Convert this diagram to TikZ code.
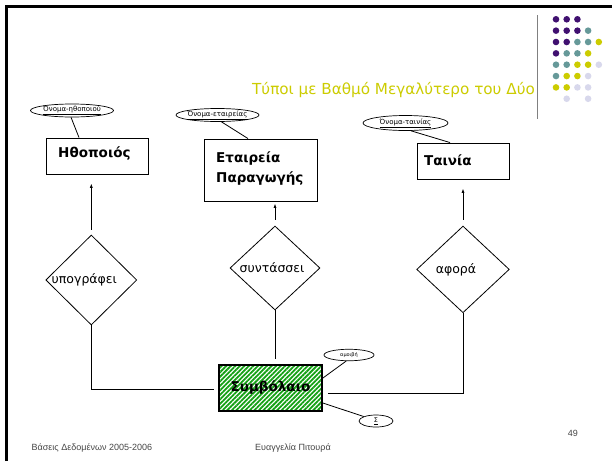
\documentclass[tikz,border=0pt]{standalone}
\usepackage{fontspec}
\setmainfont{DejaVu Sans}
\newfontfamily\footfont{Liberation Sans}
\usetikzlibrary{shapes.geometric,arrows.meta,patterns.meta}
\definecolor{titlec}{RGB}{204,204,0}
\definecolor{dpurple}{RGB}{64,16,112}
\definecolor{dteal}{RGB}{102,153,153}
\definecolor{dyellow}{RGB}{204,204,0}
\definecolor{dlav}{RGB}{216,216,236}
\definecolor{stripegreen}{RGB}{20,160,20}
\definecolor{footgray}{RGB}{70,70,70}
\begin{document}
\begin{tikzpicture}[x=1pt,y=-1pt,
  entity/.style={draw, line width=0.9pt, rectangle, inner sep=0pt,
    font=\bfseries\fontsize{13.5}{20}\selectfont},
  etext/.style={anchor=west, inner sep=0pt, align=left,
    font=\bfseries\fontsize{13.5}{20}\selectfont},
  rel/.style={draw, diamond, aspect=1, inner sep=0pt, line width=0.8pt,
    font=\fontsize{12.5}{14}\selectfont},
  attr/.style={draw, ellipse, inner sep=0pt, line width=0.7pt,
    font=\fontsize{7}{8}\selectfont},
  conn/.style={line width=0.8pt},
  arr/.style={line width=0.6pt, -{Latex[length=4pt,width=3pt]}},
  foot/.style={anchor=base west, text=footgray, font=\footfont\fontsize{9}{10}\selectfont}
]
\useasboundingbox (0,0) rectangle (612,461);
\fill[white] (0,0) rectangle (612,461);
% frame
\draw[line width=3.3pt] (6.7,461) -- (6.7,6.7) -- (612,6.7);
% decoration
\draw[gray, line width=1.2pt] (537.5,15) -- (537.5,119);
\foreach \c/\i/\j in {
  dpurple/1/1, dpurple/2/1, dpurple/3/1,
  dpurple/1/2, dpurple/2/2, dpurple/3/2, dteal/4/2,
  dpurple/1/3, dpurple/2/3, dteal/3/3, dteal/4/3, dyellow/5/3,
  dpurple/1/4, dteal/2/4, dteal/3/4, dyellow/4/4,
  dteal/1/5, dteal/2/5, dyellow/3/5, dyellow/4/5, dlav/5/5,
  dteal/1/6, dyellow/2/6, dyellow/3/6, dlav/4/6,
  dyellow/1/7, dyellow/2/7, dlav/3/7, dlav/4/7,
  dlav/2/8, dlav/4/8}
  \fill[\c] ({556+10.7*(\i-1)},{19.3+11.35*(\j-1)}) circle (3.3pt);
% title
\node[anchor=base east, text=titlec, inner sep=0pt, font=\fontsize{15.2}{18}\selectfont]
  (title) at (535,94.5) {Τύποι με Βαθμό Μεγαλύτερο του Δύο};
% entities
\node[entity, minimum width=102pt, minimum height=36pt] (e1) at (97,156) {};
\node[etext] (t1) at (58,153.5) {Ηθοποιός};
\node[entity, minimum width=113pt, minimum height=62pt] (e2) at (260.5,170) {};
\node[etext] (t2) at (216,169) {Εταιρεία\\Παραγωγής};
\node[entity, minimum width=92pt, minimum height=36pt] (e3) at (463,161) {};
\node[etext] (t3) at (424,160.5) {Ταινία};
\node[draw, line width=1.1pt, minimum width=103pt, minimum height=46pt, inner sep=0pt,
  preaction={fill=white},
  pattern={Lines[angle=45,distance=3.2pt,line width=1.8pt]}, pattern color=stripegreen,
  font=\bfseries\fontsize{13.5}{16}\selectfont]
  (c) at (270.5,388) {Συμβόλαιο};
% relationships
\node[rel, minimum width=91pt, minimum height=90pt] (d1) at (91.3,280)
  {\makebox[0pt]{\hspace{-14pt}υπογράφει}};
\node[rel, minimum width=90pt, minimum height=84pt] (d2) at (275,268)
  {\makebox[0pt]{\hspace{-6pt}συντάσσει}};
\node[rel, minimum width=92.6pt, minimum height=86.7pt] (d3) at (463,269.4)
  {\makebox[0pt]{\hspace{-14pt}αφορά}};
% attributes
\node[attr, minimum width=83pt, minimum height=13pt] (o1) at (72,110.5)
  {\makebox[0pt]{\underline{Όνομα-ηθοποιού}}};
\node[attr, minimum width=83pt, minimum height=13pt] (o2) at (217.5,115)
  {\makebox[0pt]{\underline{Όνομα-εταιρείας}}};
\node[attr, minimum width=85pt, minimum height=15pt] (o3) at (405.5,123)
  {\makebox[0pt]{\underline{Όνομα-ταινίας}}};
\node[attr, minimum width=50pt, minimum height=11.5pt, font=\fontsize{5}{6}\selectfont]
  (a1) at (349,355) {αμοιβή};
\node[attr, minimum width=34pt, minimum height=12pt, font=\fontsize{6.5}{7}\selectfont]
  (s1) at (376,421) {\underline{Σ}};
% attribute links
\draw[conn] (o1.262) -- ([xshift=-18pt]e1.north);
\draw[conn] (o2.300) -- ([xshift=-12.5pt]e2.north);
\draw[conn] (o3.305) -- ([xshift=-13pt]e3.north);
\draw[conn] ([yshift=10pt]c.east) -- (a1.245);
\draw[conn] ([yshift=-15pt]c.east) -- (s1.160);
% arrows
\draw[arr, shorten <=5pt, shorten >=9.3pt] (d1.north) -- (d1.north |- e1.south);
\draw[arr, shorten <=6pt, shorten >=2.3pt] (d2.north) -- (d2.north |- e2.south);
\draw[arr, shorten <=6pt, shorten >=9.3pt] (d3.north) -- (d3.north |- e3.south);
% connectors to contract
\draw[conn, shorten >=4pt] (d1.south) |- ([yshift=-1.3pt]c.west);
\draw[conn, shorten >=5.5pt] (d2.south) -- (d2.south |- c.north);
\draw[conn, shorten >=5pt] (d3.south) |- ([yshift=-5.3pt]c.east);
% footer
\node[foot, inner sep=0pt] (f1) at (31.5,450) {Βάσεις Δεδομένων 2005-2006};
\node[foot, inner sep=0pt] (f2) at (255,450) {Ευαγγελία Πιτουρά};
\node[foot, anchor=base east, inner sep=0pt] (f3) at (578,436.5) {49};
\end{tikzpicture}
\end{document}
